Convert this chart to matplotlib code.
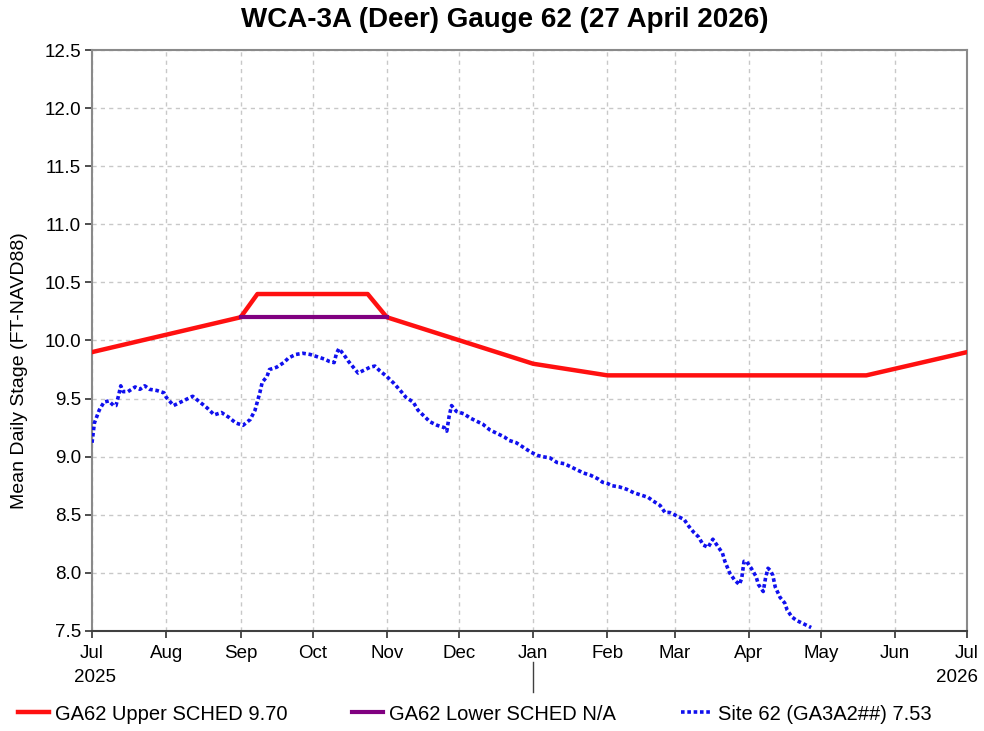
import matplotlib
matplotlib.use('Agg')
import matplotlib.pyplot as plt
import matplotlib.dates as mdates
import numpy as np
import datetime as dt

plt.rcParams['font.family'] = ['Liberation Sans', 'DejaVu Sans']

BASE = dt.date(2025, 7, 1)

# upper regulation schedule knots (ft NAVD88)
upper_dates = ['2025-07-01', '2025-09-01', '2025-09-08', '2025-10-24', '2025-11-01',
               '2026-01-01', '2026-02-01', '2026-05-20', '2026-07-01']
upper_vals = [9.9, 10.2, 10.4, 10.4, 10.2, 9.8, 9.7, 9.7, 9.9]

# lower schedule only defined for the fall segment
lower_dates = ['2025-09-01', '2025-11-01']
lower_vals = [10.2, 10.2]

# site 62 mean daily stage, days counted from 2025-07-01
site_days = [0, 1, 3, 5, 7, 9, 10, 11, 12, 13, 15, 18, 20, 22, 24, 27, 30, 31, 34, 36,
             39, 42, 45, 48, 51, 54, 57, 60, 63, 66, 68, 70, 71, 73, 74, 77, 80, 82, 85, 88,
             91, 94, 97, 99, 101, 102, 103, 105, 107, 109, 111, 113, 116, 118, 120, 123, 126,
             129, 131, 134, 136, 138, 141, 144, 147, 148, 149, 150, 152, 155, 158, 161, 163,
             166, 169, 172, 174, 177, 180, 183, 186, 188, 191, 194, 197, 199, 202, 205, 208,
             211, 213, 215, 217, 220, 223, 226, 229, 232, 234, 237, 239, 241, 244, 247, 249,
             251, 253, 255, 257, 259, 261, 263, 264, 266, 268, 270, 271, 272, 273, 275, 277,
             278, 280, 281, 282, 283, 284, 285, 287, 289, 290, 292, 294, 296, 298, 300]
site_vals = [9.12, 9.29, 9.40, 9.47, 9.48, 9.44, 9.44, 9.52, 9.61, 9.56, 9.56, 9.60, 9.58,
             9.61, 9.58, 9.57, 9.55, 9.51, 9.44, 9.46, 9.49, 9.52, 9.47, 9.42, 9.36, 9.38,
             9.34, 9.29, 9.27, 9.32, 9.40, 9.55, 9.64, 9.69, 9.75, 9.77, 9.81, 9.85, 9.88,
             9.89, 9.88, 9.86, 9.84, 9.82, 9.81, 9.89, 9.93, 9.88, 9.82, 9.77, 9.72, 9.74,
             9.77, 9.78, 9.74, 9.69, 9.63, 9.56, 9.51, 9.47, 9.40, 9.36, 9.30, 9.27, 9.25,
             9.22, 9.35, 9.44, 9.39, 9.37, 9.33, 9.30, 9.28, 9.23, 9.20, 9.17, 9.14, 9.12,
             9.08, 9.04, 9.01, 9.00, 8.99, 8.95, 8.94, 8.92, 8.89, 8.86, 8.84, 8.81, 8.78,
             8.77, 8.75, 8.74, 8.72, 8.69, 8.67, 8.65, 8.62, 8.58, 8.52, 8.52, 8.49, 8.46,
             8.40, 8.35, 8.31, 8.24, 8.22, 8.29, 8.23, 8.17, 8.10, 8.00, 7.94, 7.90, 7.95,
             8.10, 8.10, 8.04, 7.97, 7.90, 7.84, 7.96, 8.04, 8.02, 7.98, 7.88, 7.79, 7.74,
             7.68, 7.62, 7.59, 7.57, 7.55, 7.53]

upper_label = 'GA62 Upper SCHED 9.70'
lower_label = 'GA62 Lower SCHED N/A'
site_label = 'Site 62 (GA3A2##) 7.53'

up_x = [dt.date.fromisoformat(d) for d in upper_dates]
lo_x = [dt.date.fromisoformat(d) for d in lower_dates]
site_x = [BASE + dt.timedelta(days=d) for d in site_days]

FS = 13.5

fig = plt.figure(figsize=(9.84, 7.31), dpi=100)
ax = fig.add_axes([0.0935, 0.1368, 0.8892, 0.7948])

ax.plot(site_x, site_vals, color='#1010ee', linewidth=2.6, dashes=(1.0, 0.75),
        label=site_label, zorder=3)
ax.plot(up_x, upper_vals, color='#ff1010', linewidth=3.2, label=upper_label,
        solid_joinstyle='round', zorder=4)
ax.plot(lo_x, lower_vals, color='#800080', linewidth=3.0, label=lower_label, zorder=4)

ax.set_xlim(dt.date(2025, 7, 1), dt.date(2026, 7, 1))
ax.set_ylim(7.5, 12.5)
ax.set_yticks(np.arange(7.5, 12.51, 0.5))
ax.yaxis.set_major_formatter(plt.FormatStrFormatter('%.1f'))
ax.xaxis.set_major_locator(mdates.MonthLocator())
ax.xaxis.set_major_formatter(mdates.DateFormatter('%b'))

ax.grid(True, color='#c8c8c8', linestyle=(0, (3, 3)), linewidth=1.0)
for s in ax.spines.values():
    s.set_color('#8a8a8a')
    s.set_linewidth(1.5)
ax.spines['bottom'].set_color('#404040')
ax.tick_params(axis='both', labelsize=FS, colors='#303030', length=5, width=1.2,
               labelcolor='black')
ax.tick_params(axis='x', pad=5)
ax.tick_params(axis='y', pad=3)

# year labels and the separator under January
fig.text(95 / 984, 1 - 678 / 731, '2025', fontsize=FS, ha='center', va='center')
fig.text(957 / 984, 1 - 678 / 731, '2026', fontsize=FS, ha='center', va='center')
fig.add_artist(plt.Line2D([533 / 984, 533 / 984], [1 - 662 / 731, 1 - 692 / 731],
                          color='#404040', linewidth=1.0))

fig.text(20 / 984, 1 - 371 / 731, 'Mean Daily Stage (FT-NAVD88)', rotation=90,
         fontsize=14, ha='center', va='center')
fig.text(505 / 984, 1 - 20 / 731, 'WCA-3A (Deer) Gauge 62 (27 April 2026)',
         fontsize=20, fontweight='bold', ha='center', va='center')

h, l = ax.get_legend_handles_labels()
order = [1, 2, 0]
fig.legend([h[i] for i in order], [l[i] for i in order], ncol=3, loc='center left',
           bbox_to_anchor=(18 / 984, 1 - 714 / 731), frameon=False, fontsize=14.5,
           borderpad=0, borderaxespad=0, handlelength=1.55, handletextpad=0.3,
           columnspacing=3.2)

fig.savefig('out.png', dpi=100, facecolor='white')
